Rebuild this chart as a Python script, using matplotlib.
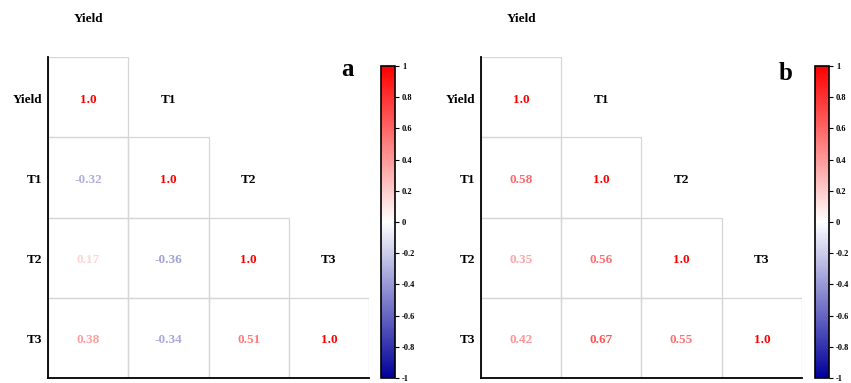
import numpy as np
import matplotlib.pyplot as plt
from matplotlib.colors import LinearSegmentedColormap, Normalize
from matplotlib.cm import ScalarMappable
from matplotlib.patches import Rectangle

plt.rcParams['font.family'] = ['Liberation Serif', 'DejaVu Serif']
plt.rcParams['font.weight'] = 'bold'

names = ['Yield', 'T1', 'T2', 'T3']

# lower triangle, row by row (row i has i+1 values)
corr_a = [
    [1.0],
    [-0.32, 1.0],
    [0.17, -0.36, 1.0],
    [0.38, -0.34, 0.51, 1.0],
]
corr_b = [
    [1.0],
    [0.58, 1.0],
    [0.35, 0.56, 1.0],
    [0.42, 0.67, 0.55, 1.0],
]

cmap = LinearSegmentedColormap.from_list('nwr', ['#00009a', '#ffffff', '#ff0000'])
norm = Normalize(-1, 1)

W, H = 851, 383
fig = plt.figure(figsize=(W / 100, H / 100), dpi=100)


def panel(x0, cx0, corr, letter, lx, ly):
    ax = fig.add_axes([x0 / W, 5 / H, 321 / W, 321 / H])
    ax.set_xlim(0, 4)
    ax.set_ylim(4, 0)
    ax.set_xticks([])
    ax.set_yticks([])
    for s in ['top', 'right']:
        ax.spines[s].set_visible(False)
    for s in ['left', 'bottom']:
        ax.spines[s].set_linewidth(1.3)
    dy = 0.03
    for i, row in enumerate(corr):
        for j, v in enumerate(row):
            ax.add_patch(Rectangle((j, i), 1, 1, fill=False,
                                   edgecolor='#d6d6d6', linewidth=0.9))
            txt = '1.0' if i == j else f'{v:.2f}'
            ax.text(j + 0.5, i + 0.5 + dy, txt, ha='center', va='center',
                    fontsize=9.5, fontweight='bold', color=cmap(norm(v)))
        if i < len(names) - 1:
            ax.text(i + 1.5, i + 0.5 + dy, names[i + 1], ha='center', va='center',
                    fontsize=9.5, fontweight='bold', color='black')
        ax.text(-0.07, i + 0.5 + dy, names[i], ha='right', va='center',
                fontsize=9.5, fontweight='bold', clip_on=False)
    ax.text(0.5, -0.5 + dy, names[0], ha='center', va='center',
            fontsize=9.5, fontweight='bold', clip_on=False)
    fig.text(lx / W, 1 - ly / H, letter, ha='center', va='center',
             fontsize=18, fontweight='bold')

    cax = fig.add_axes([cx0 / W, 5 / H, 14 / W, 312 / H])
    cb = fig.colorbar(ScalarMappable(norm=norm, cmap=cmap), cax=cax,
                      ticks=np.arange(-1, 1.01, 0.2))
    cb.ax.set_yticklabels(['-1', '-0.8', '-0.6', '-0.4', '-0.2', '0',
                           '0.2', '0.4', '0.6', '0.8', '1'])
    cb.ax.tick_params(labelsize=6, length=3, width=0.8, pad=2)
    for t in cb.ax.get_yticklabels():
        t.set_fontweight('bold')
    cb.outline.set_linewidth(1.2)


panel(48, 381, corr_a, 'a', 348, 69)
panel(481, 815, corr_b, 'b', 786, 73)

fig.savefig('out.png', dpi=100)
